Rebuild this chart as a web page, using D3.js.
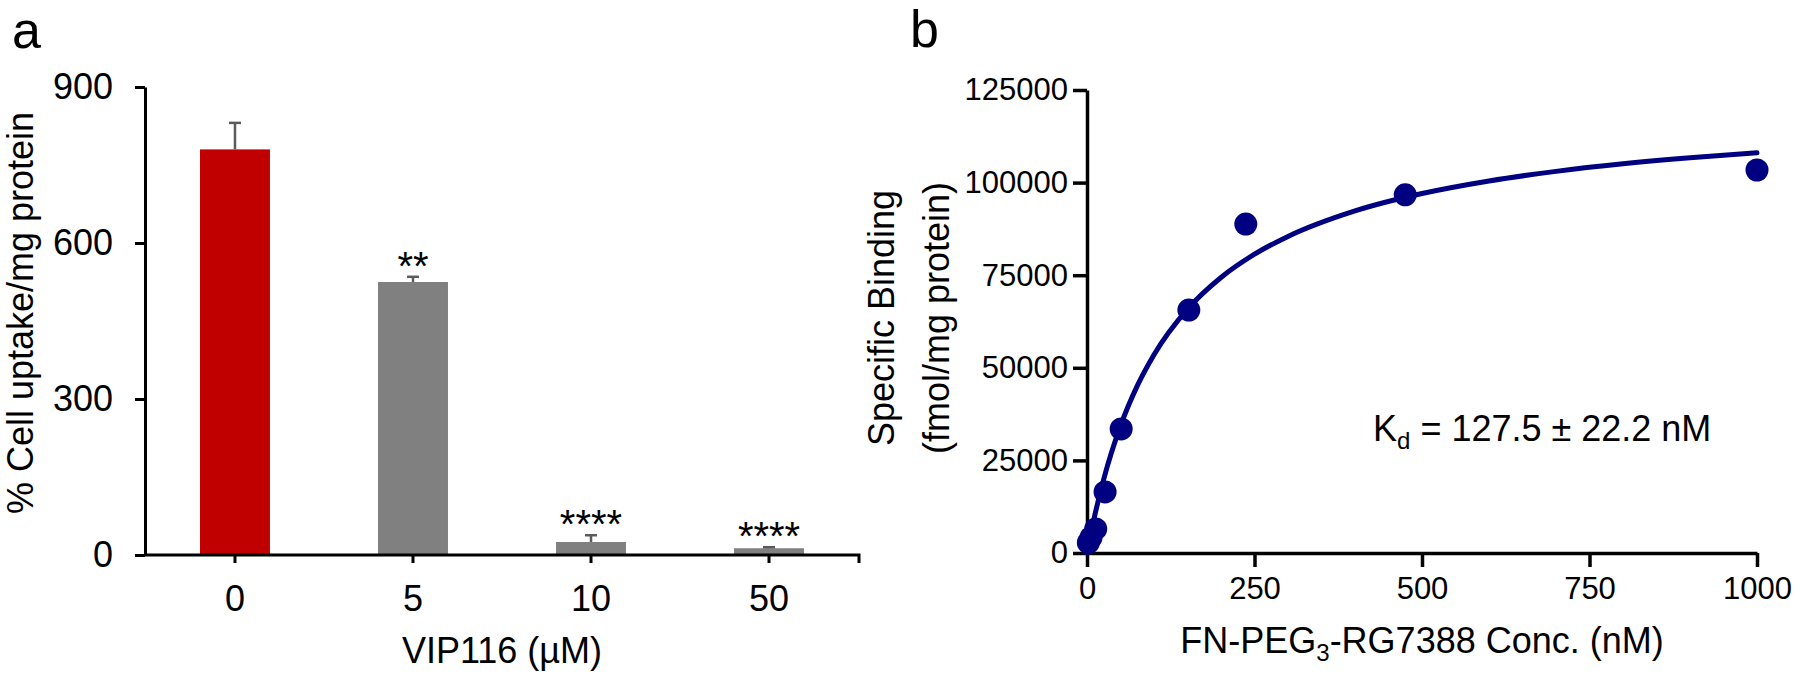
<!DOCTYPE html>
<html><head><meta charset="utf-8">
<script src="https://cdn.jsdelivr.net/npm/d3@7"></script>
<style>
body{margin:0;background:#fff}
svg{display:block}
text{font-family:"Liberation Sans",Arial,sans-serif;fill:#000}
</style>
</head><body>
<svg id="c" width="1800" height="676"></svg>
<script>
// ---- Panel a data ----
const uptakeCategories = ["0", "5", "10", "50"];
const uptakeMeans = [780, 525, 25, 13];
const uptakeErrors = [51, 10, 13, 2];
const uptakeSignificance = ["", "**", "****", "****"];
const uptakeColors = ["#C00000", "#808080", "#808080", "#808080"];
const uptakeTicks = [0, 300, 600, 900];

// ---- Panel b data ----
const bindingConc = [2, 6, 13, 27, 51, 152, 237, 475, 1000];
const bindingValues = [2800, 4200, 6500, 16500, 33500, 65600, 88800, 96700, 103400];
const fitConc = [0, 5, 10, 25, 50, 75, 100, 150, 200, 250, 300, 400, 500, 600, 700, 800, 900, 1000];
const fitValues = [0, 4600, 8860, 19970, 34310, 45110, 53540, 65840, 74380, 80660, 85470, 92360, 97050, 100450, 103030, 105060, 106690, 108030];
const bindingXTicks = [0, 250, 500, 750, 1000];
const bindingYTicks = [0, 25000, 50000, 75000, 100000, 125000];

const svg = d3.select("#c");

// ================= Panel a =================
const ax = d3.scaleBand().domain(uptakeCategories).range([145, 859])
  .paddingInner(0.607).paddingOuter(0.309);
const ay = d3.scaleLinear().domain([0, 900]).range([555, 87]);

const ga = svg.append("g");

// bars
ga.selectAll("rect.bar").data(uptakeCategories).join("rect")
  .attr("class", "bar")
  .attr("x", d => ax(d))
  .attr("width", ax.bandwidth())
  .attr("y", (d, i) => ay(uptakeMeans[i]))
  .attr("height", (d, i) => ay(0) - ay(uptakeMeans[i]))
  .attr("fill", (d, i) => uptakeColors[i]);

// error bars (upper only)
const capW = 12;
uptakeCategories.forEach((d, i) => {
  const cx = ax(d) + ax.bandwidth() / 2;
  const yTop = ay(uptakeMeans[i] + uptakeErrors[i]);
  const yMean = ay(uptakeMeans[i]);
  ga.append("line").attr("x1", cx).attr("x2", cx).attr("y1", yMean).attr("y2", yTop)
    .attr("stroke", "#5a5a5a").attr("stroke-width", 2.5);
  ga.append("line").attr("x1", cx - capW / 2).attr("x2", cx + capW / 2).attr("y1", yTop).attr("y2", yTop)
    .attr("stroke", "#5a5a5a").attr("stroke-width", 2.5);
  if (uptakeSignificance[i]) {
    ga.append("text").attr("x", cx).attr("y", yTop + 3)
      .attr("text-anchor", "middle").attr("font-size", 40)
      .text(uptakeSignificance[i]);
  }
});

// axes
const ayAxis = ga.append("g").attr("transform", `translate(${ax.range()[0]},0)`)
  .call(d3.axisLeft(ay).tickValues(uptakeTicks).tickSize(10).tickSizeOuter(0).tickPadding(22));
const axAxis = ga.append("g").attr("transform", `translate(0,${ay(0)})`)
  .call(d3.axisBottom(ax).tickSize(8).tickSizeOuter(0).tickPadding(22));
axAxis.select(".domain").attr("d", `M${ax.range()[0]},0H${ax.range()[1]}V8`);
[ayAxis, axAxis].forEach(g => {
  g.select(".domain").attr("stroke", "#000").attr("stroke-width", 3).attr("fill", "none");
  g.selectAll(".tick line").attr("stroke", "#000").attr("stroke-width", 3);
  g.selectAll(".tick text").attr("font-size", 36).attr("font-family", "Liberation Sans, Arial, sans-serif").attr("fill", "#000");
});

// titles
ga.append("text").attr("transform", "translate(33,313) rotate(-90)")
  .attr("text-anchor", "middle").attr("font-size", 36).text("% Cell uptake/mg protein");
ga.append("text").attr("x", (ax.range()[0] + ax.range()[1]) / 2).attr("y", 663)
  .attr("text-anchor", "middle").attr("font-size", 36).text("VIP116 (µM)");
ga.append("text").attr("x", 12).attr("y", 48).attr("font-size", 52).text("a");

// ================= Panel b =================
const bx = d3.scaleLinear().domain([0, 1000]).range([1087, 1757]);
const by = d3.scaleLinear().domain([0, 125000]).range([553, 90]);
const gb = svg.append("g");

const byAxis = gb.append("g").attr("transform", `translate(${bx(0)},0)`)
  .call(d3.axisLeft(by).tickValues(bindingYTicks).tickFormat(d3.format("d")).tickSize(14).tickSizeOuter(0).tickPadding(5));
const bxAxis = gb.append("g").attr("transform", `translate(0,${by(0)})`)
  .call(d3.axisBottom(bx).tickValues(bindingXTicks).tickFormat(d3.format("d")).tickSize(14).tickSizeOuter(0).tickPadding(10));
[byAxis, bxAxis].forEach(g => {
  g.select(".domain").attr("stroke", "#000").attr("stroke-width", 3.5);
  g.selectAll(".tick line").attr("stroke", "#000").attr("stroke-width", 3.5);
  g.selectAll(".tick text").attr("font-size", 31).attr("font-family", "Liberation Sans, Arial, sans-serif").attr("fill", "#000");
});

// fit curve
const fitData = fitConc.map((c, i) => [c, fitValues[i]]);
gb.append("path").datum(fitData)
  .attr("d", d3.line().x(d => bx(d[0])).y(d => by(d[1])).curve(d3.curveMonotoneX))
  .attr("fill", "none").attr("stroke", "#000080").attr("stroke-width", 5).attr("stroke-linecap", "round");

// points
gb.selectAll("circle.pt").data(bindingConc).join("circle")
  .attr("class", "pt")
  .attr("cx", d => bx(d))
  .attr("cy", (d, i) => by(bindingValues[i]))
  .attr("r", 11.5)
  .attr("fill", "#000080");

// titles
const yt = gb.append("text").attr("transform", "translate(894,318) rotate(-90)")
  .attr("text-anchor", "middle").attr("font-size", 36);
yt.append("tspan").attr("x", 0).attr("dy", 0).text("Specific Binding");
yt.append("tspan").attr("x", 0).attr("dy", 55).text("(fmol/mg protein)");

const xt = gb.append("text").attr("x", (bx.range()[0] + bx.range()[1]) / 2).attr("y", 653)
  .attr("text-anchor", "middle").attr("font-size", 36);
xt.append("tspan").text("FN-PEG");
xt.append("tspan").attr("font-size", 24).attr("dy", 8).text("3");
xt.append("tspan").attr("dy", -8).text("-RG7388 Conc. (nM)");

const kd = gb.append("text").attr("x", 1373).attr("y", 441).attr("font-size", 36);
kd.append("tspan").text("K");
kd.append("tspan").attr("font-size", 24).attr("dy", 8).text("d");
kd.append("tspan").attr("dy", -8).text(" = 127.5 ± 22.2 nM");

gb.append("text").attr("x", 910).attr("y", 47).attr("font-size", 52).text("b");
</script>
</body></html>
